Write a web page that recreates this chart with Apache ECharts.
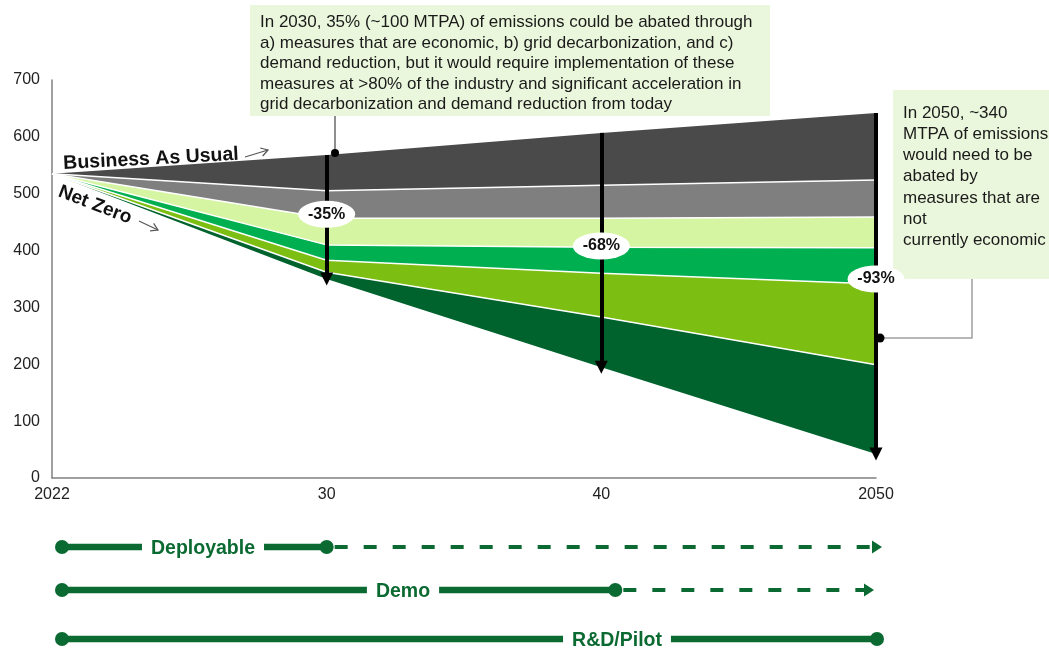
<!DOCTYPE html>
<html><head><meta charset="utf-8">
<script src="https://cdn.jsdelivr.net/npm/echarts@6/dist/echarts.min.js"></script>
<style>html,body{margin:0;padding:0;background:#fff}#c{width:1049px;height:649px}</style>
</head><body><div id="c"></div>
<script>
// ---------- data (MTPA) ----------
const categories = ['2022', '30', '40', '2050'];
const netZero        = [535, 350, 195, 42];   // Net Zero pathway (bottom edge)
const bandDarkGreen  = [0, 12, 88, 157];
const bandLime       = [0, 21, 77, 142];
const bandGreen      = [0, 27, 46, 64];
const bandLightGreen = [0, 47, 51, 54];
const bandMidGray    = [0, 48, 58, 65];
const bandDarkGray   = [0, 63, 92, 118];
const yTicks = [0, 100, 200, 300, 400, 500, 600, 700];
const reductionAt     = ['30', '40', '2050'];
const reductionLabels = ['-35%', '-68%', '-93%'];
const stageNames      = ['Deployable', 'Demo', 'R&D/Pilot'];
const stageProvenUntil = ['30', '40', '2050'];
const noteTop = ['In 2030, 35% (~100 MTPA) of emissions could be abated through',
  'a) measures that are economic, b) grid decarbonization, and c)',
  'demand reduction, but it would require implementation of these',
  'measures at >80% of the industry and significant acceleration in',
  'grid decarbonization and demand reduction from today'];
const noteRight = ['In 2050, ~340', 'MTPA of emissions', 'would need to be', 'abated by',
  'measures that are', 'not', 'currently economic'];

// ---------- derived ----------
const bands = [bandDarkGreen, bandLime, bandGreen, bandLightGreen, bandMidGray, bandDarkGray];
const bau = categories.map((_, i) => netZero[i] + bands.reduce((s, b) => s + b[i], 0));

const FONT = "'Liberation Sans', Arial, Helvetica, sans-serif";
const G = '#0b6a32';
const bandColors = ['#00622d', '#7dbe12', '#00b050', '#d6f5a3', '#7f7f7f', '#4a4a4a'];

const chart = echarts.init(document.getElementById('c'), null, {renderer: 'canvas'});

const series = [{
  name: 'base', type: 'line', stack: 's', data: netZero, symbol: 'none',
  lineStyle: {width: 0, opacity: 0}, silent: true, z: 2
}];
bands.forEach((b, k) => {
  series.push({
    name: 'band' + k, type: 'line', stack: 's', data: b, symbol: 'none',
    lineStyle: {color: '#ffffff', width: k === bands.length - 1 ? 0 : 1.5},
    areaStyle: {color: bandColors[k], opacity: 1},
    itemStyle: {color: bandColors[k]}, silent: true, z: 2
  });
});
// arrows from BAU down to Net Zero
series.push({
  name: 'arrows', type: 'line', data: bau, symbol: 'none',
  lineStyle: {width: 0}, itemStyle: {color: '#000'}, silent: true, z: 3,
  markLine: {
    silent: true, animation: false,
    symbol: ['none', 'triangle'], symbolSize: 13,
    lineStyle: {color: '#000', width: 4, type: 'solid', opacity: 1},
    label: {show: false},
    data: reductionAt.map(c => {
      const i = categories.indexOf(c);
      return [{coord: [i, bau[i]]}, {coord: [i, netZero[i]]}];
    })
  }
});
// percentage badges
const badgeY = [464, 408, 350];
series.push({
  name: 'badges', type: 'scatter', z: 5, silent: true,
  symbol: 'path://M0,20a40,20 0 1,0 80,0a40,20 0 1,0 -80,0',
  symbolSize: [57, 27],
  itemStyle: {color: '#ffffff', opacity: 1},
  label: {show: true, position: 'inside', formatter: p => p.value[2],
    fontFamily: FONT, fontWeight: 'bold', fontSize: 16, color: '#111'},
  data: reductionAt.map((c, j) => [categories.indexOf(c), badgeY[j], reductionLabels[j]])
});

const option = {
  animation: false,
  backgroundColor: '#ffffff',
  grid: {left: 52, right: 173, top: 80, bottom: 171, containLabel: false},
  xAxis: {
    type: 'category', data: categories, boundaryGap: false,
    axisLine: {show: true, lineStyle: {color: '#808080', width: 1.5}},
    axisTick: {show: false},
    axisLabel: {fontFamily: FONT, fontSize: 16, color: '#222', margin: 9, showMinLabel: true, showMaxLabel: true},
    splitLine: {show: false}
  },
  yAxis: {
    type: 'value', min: yTicks[0], max: yTicks[yTicks.length - 1], interval: 100,
    axisLine: {show: true, lineStyle: {color: '#808080', width: 1.5}},
    axisTick: {show: false},
    axisLabel: {fontFamily: FONT, fontSize: 16, color: '#222', margin: 12},
    splitLine: {show: false}
  },
  series: series
};
chart.setOption(option);

// ---------- annotations ----------
const px = c => chart.convertToPixel({xAxisIndex: 0}, categories.indexOf(c));
const gfx = [];
// top note
gfx.push({type: 'rect', z: 1, shape: {x: 250, y: 5, width: 520, height: 111}, style: {fill: '#ebf7dc'}});
gfx.push({type: 'text', z: 11, x: 260, y: 12, style: {text: noteTop.join('\n'), fontFamily: FONT, fontSize: 17,
  lineHeight: 20.6, fill: '#1a1a1a', verticalAlign: 'top'}});
gfx.push({type: 'line', z: 11, shape: {x1: 335, y1: 116, x2: 335, y2: 153}, style: {stroke: '#444', lineWidth: 1.2}});
gfx.push({type: 'circle', z: 11, shape: {cx: 335, cy: 153, r: 4}, style: {fill: '#000'}});
// right note
gfx.push({type: 'rect', z: 1, shape: {x: 893, y: 90, width: 160, height: 189}, style: {fill: '#ebf7dc'}});
gfx.push({type: 'text', z: 11, x: 903, y: 102.5, style: {text: noteRight.join('\n'), fontFamily: FONT, fontSize: 17,
  lineHeight: 21.2, fill: '#1a1a1a', verticalAlign: 'top'}});
gfx.push({type: 'polyline', z: 11, shape: {points: [[972, 279], [972, 338], [882, 338]]}, style: {stroke: '#a0a0a0', lineWidth: 1.5, fill: null}});
gfx.push({type: 'circle', z: 11, shape: {cx: 880, cy: 338, r: 4.5}, style: {fill: '#000'}});
// Business As Usual / Net Zero labels
gfx.push({type: 'text', z: 11, x: 151, y: 159, rotation: 3 * Math.PI / 180,
  style: {text: 'Business As Usual', fontFamily: FONT, fontWeight: 'bold', fontSize: 19.5, fill: '#111', align: 'center', verticalAlign: 'middle'}});
gfx.push({type: 'text', z: 11, x: 95, y: 205, rotation: -21 * Math.PI / 180,
  style: {text: 'Net Zero', fontFamily: FONT, fontWeight: 'bold', fontSize: 19, fill: '#111', align: 'center', verticalAlign: 'middle'}});
function arrowGlyph(x1, y1, x2, y2) {
  const a = Math.atan2(y2 - y1, x2 - x1), L = 8, s = 0.55;
  gfx.push({type: 'line', z: 11, shape: {x1, y1, x2, y2}, style: {stroke: '#555', lineWidth: 1.2}});
  gfx.push({type: 'polyline', z: 11, shape: {points: [
    [x2 - L * Math.cos(a - s), y2 - L * Math.sin(a - s)], [x2, y2],
    [x2 - L * Math.cos(a + s), y2 - L * Math.sin(a + s)]]}, style: {stroke: '#555', lineWidth: 1.2, fill: null}});
}
arrowGlyph(245, 157, 268, 150);
arrowGlyph(139, 221, 158, 230);

// technology readiness timeline
const rowY = [547, 590, 639];
const labelCx = [203, 403, 617];
const dotShift = [0, 14, 1];
const x0 = px('2022') + 10, xEnd = px('2050');
stageNames.forEach((name, i) => {
  const y = rowY[i];
  const xm = px(stageProvenUntil[i]) + dotShift[i];
  gfx.push({type: 'line', z: 12, shape: {x1: x0, y1: y, x2: xm, y2: y}, style: {stroke: G, lineWidth: 6.5}});
  if (xm < xEnd - 10) {
    const tip = xEnd + (i === 0 ? 6 : -2);
    gfx.push({type: 'line', z: 12, shape: {x1: xm + 8, y1: y, x2: tip - 9, y2: y},
      style: {stroke: G, lineWidth: 4, lineDash: [13, 16]}});
    gfx.push({type: 'polygon', z: 12, shape: {points: [[tip - 10, y - 6.5], [tip, y], [tip - 10, y + 6.5]]}, style: {fill: G}});
  }
  gfx.push({type: 'text', z: 13, x: labelCx[i], y: y + 2, style: {text: name, fontFamily: FONT, fontWeight: 'bold',
    fontSize: 19.5, fill: G, align: 'center', verticalAlign: 'middle', backgroundColor: '#fff', padding: [0, 9]}});
  gfx.push({type: 'circle', z: 14, shape: {cx: x0, cy: y, r: 7}, style: {fill: G}});
  gfx.push({type: 'circle', z: 14, shape: {cx: xm, cy: y, r: 7}, style: {fill: G}});
});
chart.setOption({graphic: gfx});
</script>
</body></html>
